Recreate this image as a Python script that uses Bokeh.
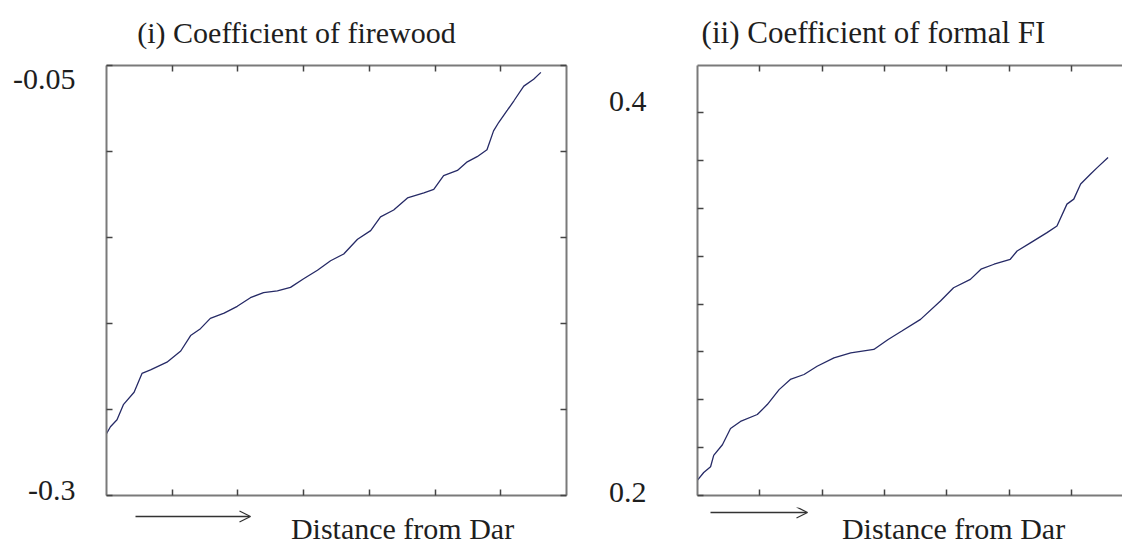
from bokeh.plotting import figure
from bokeh.layouts import row, column
from bokeh.models import Range1d, FixedTicker, LinearAxis, Label, Arrow, OpenHead
from bokeh.embed import file_html
from bokeh.resources import INLINE

# ---- data ----
# x: distance from Dar, in units of the x tick spacing
fire_x = [0.0, 0.06, 0.16, 0.26, 0.42, 0.54, 0.67, 0.92, 1.13, 1.28, 1.43, 1.58, 1.79, 1.99,
          2.19, 2.39, 2.60, 2.80, 3.00, 3.21, 3.41, 3.61, 3.82, 4.02, 4.17, 4.37, 4.58, 4.83,
          4.98, 5.13, 5.34, 5.49, 5.64, 5.79, 5.89, 5.97, 6.10, 6.20, 6.35, 6.50, 6.61]
fire_y = [-0.264, -0.260, -0.256, -0.247, -0.240, -0.229, -0.227, -0.2225, -0.216, -0.207,
          -0.203, -0.197, -0.194, -0.190, -0.185, -0.182, -0.181, -0.179, -0.174, -0.169,
          -0.1635, -0.1596, -0.151, -0.146, -0.138, -0.134, -0.127, -0.124, -0.122, -0.114,
          -0.111, -0.106, -0.103, -0.099, -0.088, -0.083, -0.076, -0.0705, -0.062, -0.058, -0.054]

ffi_x = [0.0, 0.10, 0.21, 0.26, 0.40, 0.53, 0.69, 0.96, 1.12, 1.31, 1.49, 1.71, 1.92, 2.19,
         2.46, 2.83, 3.06, 3.28, 3.58, 3.90, 4.11, 4.38, 4.55, 4.76, 5.02, 5.13, 5.35, 5.61,
         5.77, 5.93, 6.04, 6.15, 6.31, 6.42, 6.59]
ffi_y = [0.208, 0.212, 0.215, 0.221, 0.2265, 0.235, 0.2387, 0.2423, 0.2475, 0.2553, 0.2606,
         0.2632, 0.2675, 0.2719, 0.2745, 0.2763, 0.2815, 0.2859, 0.2920, 0.3016, 0.3085,
         0.3129, 0.3182, 0.3208, 0.3234, 0.3277, 0.3321, 0.3373, 0.3408, 0.3522, 0.3548,
         0.3627, 0.3679, 0.3714, 0.3766]

x_ticks = [1, 2, 3, 4, 5, 6]
fire_y_ticks = [-0.3, -0.25, -0.2, -0.15, -0.1, -0.05]
ffi_y_ticks = [0.2, 0.225, 0.25, 0.275, 0.3, 0.325, 0.35, 0.375, 0.4]
fire_labels = ["-0.05", "-0.3"]
ffi_labels = ["0.4", "0.2"]
titles = ["(i) Coefficient of firewood", "(ii) Coefficient of formal FI"]
xlabel = "Distance from Dar"

FONT = "Liberation Serif"
TXT = "#1e1e1e"
LINE = "#262a66"
AX = "#7a7a7a"

TOP_H, MAIN_H, BOT_H = 56, 451, 38
FULL_W = 1122


def style_axis(ax, ticks):
    ax.ticker = FixedTicker(ticks=ticks)
    ax.axis_line_color = AX
    ax.axis_line_width = 2
    ax.major_tick_line_color = "#444444"
    ax.major_tick_line_width = 1.5
    ax.major_tick_in = 6
    ax.major_tick_out = 0
    ax.minor_tick_line_color = None
    ax.major_label_standoff = 0
    ax.major_label_text_font_size = "0px"
    ax.major_label_text_alpha = 0


def bare(width, height, xr, yr, mbl=0, mbr=0, mbt=0, mbb=0):
    p = figure(width=width, height=height, x_range=Range1d(*xr), y_range=Range1d(*yr),
               output_backend="svg", toolbar_location=None, x_axis_location=None,
               y_axis_location=None, min_border_left=mbl, min_border_right=mbr,
               min_border_top=mbt, min_border_bottom=mbb)
    p.grid.visible = False
    p.outline_line_color = None
    p.background_fill_color = "white"
    p.border_fill_color = "white"
    return p


def strip(width, height):
    # text strip: coordinates are pixels from the strip's top-left corner
    return bare(width, height, (0, width), (height, 0))


def txt(x, y, s, align="center", baseline="middle", size="30px"):
    return Label(x=x, y=y, text=s, text_align=align, text_baseline=baseline,
                 text_font=FONT, text_font_size=size, text_color=TXT)


def arrow(x0, x1, y):
    return Arrow(x_start=x0, y_start=y, x_end=x1, y_end=y, line_color="#333333",
                 line_width=1.3, end=OpenHead(size=11, line_color="#333333", line_width=1.3))


# ---------- titles ----------
top = strip(FULL_W, TOP_H)
top.add_layout(txt(296, 32, titles[0]))
top.add_layout(txt(873, 32, titles[1], size="31px"))

# ---------- panel (i) ----------
XR1 = (0, 7)
YR1 = (-0.3, -0.05)
ls1 = strip(96, MAIN_H)
ls1.add_layout(txt(75, 79 - TOP_H, fire_labels[0], align="right"))
ls1.add_layout(txt(75, 490 - TOP_H, fire_labels[1], align="right"))

p1 = bare(504, MAIN_H, XR1, YR1, mbl=10, mbr=34, mbt=9, mbb=12)
for side in ["left", "right"]:
    ax = LinearAxis()
    style_axis(ax, fire_y_ticks)
    p1.add_layout(ax, side)
for side in ["below", "above"]:
    ax = LinearAxis()
    style_axis(ax, x_ticks)
    p1.add_layout(ax, side)
p1.line(fire_x, fire_y, line_color=LINE, line_width=1.3)

# ---------- panel (ii) ----------
XR2 = (0, 425 / 62.3)
YR2 = (0.2, 0.2 + 429 / 1910)
ls2 = strip(87, MAIN_H)
ls2.add_layout(txt(46, 101 - TOP_H, ffi_labels[0], align="right"))
ls2.add_layout(txt(46, 492 - TOP_H, ffi_labels[1], align="right"))

p2 = bare(435, MAIN_H, XR2, YR2, mbl=10, mbr=0, mbt=9, mbb=12)
ax = LinearAxis()
style_axis(ax, ffi_y_ticks)
p2.add_layout(ax, "left")
for side in ["below", "above"]:
    ax = LinearAxis()
    style_axis(ax, x_ticks)
    p2.add_layout(ax, side)
p2.line(ffi_x, ffi_y, line_color=LINE, line_width=1.3)

# ---------- x labels ----------
bot = strip(FULL_W, BOT_H)
bot.add_layout(arrow(135, 250, 9))
bot.add_layout(txt(402, 37, xlabel, baseline="bottom"))
bot.add_layout(arrow(710, 807, 5))
bot.add_layout(txt(953, 37, xlabel, baseline="bottom"))

# label strips wrapped in columns so their frames are not aligned with the plots'
layout = column(top, row(column(ls1), p1, column(ls2), p2, spacing=0), bot, spacing=0)
open("out.html", "w").write(file_html(layout, INLINE))
